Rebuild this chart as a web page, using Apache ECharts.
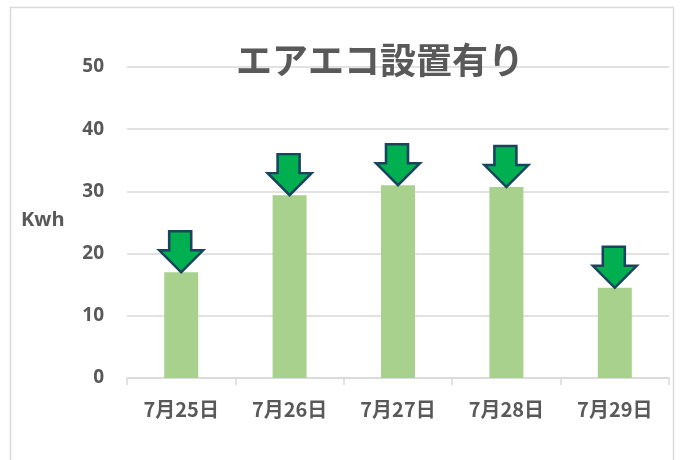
<!DOCTYPE html>
<html>
<head>
<meta charset="utf-8">
<script src="https://cdn.jsdelivr.net/npm/echarts@6/dist/echarts.min.js"></script>
<style>
  html, body { margin: 0; padding: 0; background: #fff; }
  #main { width: 682px; height: 460px; }
</style>
</head>
<body>
<div id="main"></div>
<script>
/** エアエコ設置有り chart */
var categories = ['7月25日', '7月26日', '7月27日', '7月28日', '7月29日'];
var usage = [17.0, 29.4, 31.0, 30.7, 14.5];
var yTicks = [0, 10, 20, 30, 40, 50];

var arrowPath = 'path://M10,0 L32,0 L32,19 L44,19 L22,41 L0,19 L10,19 Z';
var labelColor = '#595959';
var cjkFont = '"Noto Sans CJK JP", "Open Sans", sans-serif';

var myChart = echarts.init(document.getElementById('main'));

var option = {
    backgroundColor: '#fff',
    animation: false,
    title: {
        text: 'エアエコ設置有り',
        left: 375,
        top: 37,
        textAlign: 'center',
        textStyle: {
            fontFamily: cjkFont,
            fontSize: 36,
            fontWeight: 'bold',
            color: labelColor
        }
    },
    graphic: [
        {
            type: 'rect',
            shape: { x: 10.5, y: 7.5, width: 663, height: 460 },
            style: { fill: 'none', stroke: '#D9D9D9', lineWidth: 1.5 },
            z: -10
        },
        {
            type: 'text',
            left: 21,
            top: 210,
            style: {
                text: 'Kwh',
                fontFamily: '"Open Sans", sans-serif',
                fontSize: 20,
                fontWeight: 'bold',
                fill: labelColor
            }
        }
    ],
    grid: { left: 127, right: 13, top: 67, bottom: 82 },
    xAxis: {
        type: 'category',
        data: categories,
        boundaryGap: true,
        axisLine: { lineStyle: { color: '#D9D9D9', width: 1.5 } },
        axisTick: { show: true, length: 7, lineStyle: { color: '#D9D9D9', width: 1.5 } },
        axisLabel: {
            margin: 21,
            fontFamily: cjkFont,
            fontSize: 20,
            fontWeight: 'bold',
            color: labelColor
        }
    },
    yAxis: {
        type: 'value',
        min: yTicks[0],
        max: yTicks[yTicks.length - 1],
        interval: 10,
        axisLine: { show: false },
        axisTick: { show: false },
        splitLine: { lineStyle: { color: '#D9D9D9', width: 1.5 } },
        axisLabel: {
            margin: 23,
            fontFamily: '"Open Sans", sans-serif',
            fontSize: 19,
            fontWeight: 'bold',
            color: labelColor
        }
    },
    series: [
        {
            type: 'bar',
            data: usage,
            barWidth: 34,
            itemStyle: { color: '#A9D18E' }
        },
        {
            type: 'scatter',
            data: usage,
            symbol: arrowPath,
            symbolSize: [44, 41],
            symbolOffset: [0, '-50%'],
            itemStyle: {
                color: '#00B050',
                opacity: 1,
                borderColor: '#17455E',
                borderWidth: 2.5
            },
            z: 5
        }
    ]
};

myChart.setOption(option);
</script>
</body>
</html>
